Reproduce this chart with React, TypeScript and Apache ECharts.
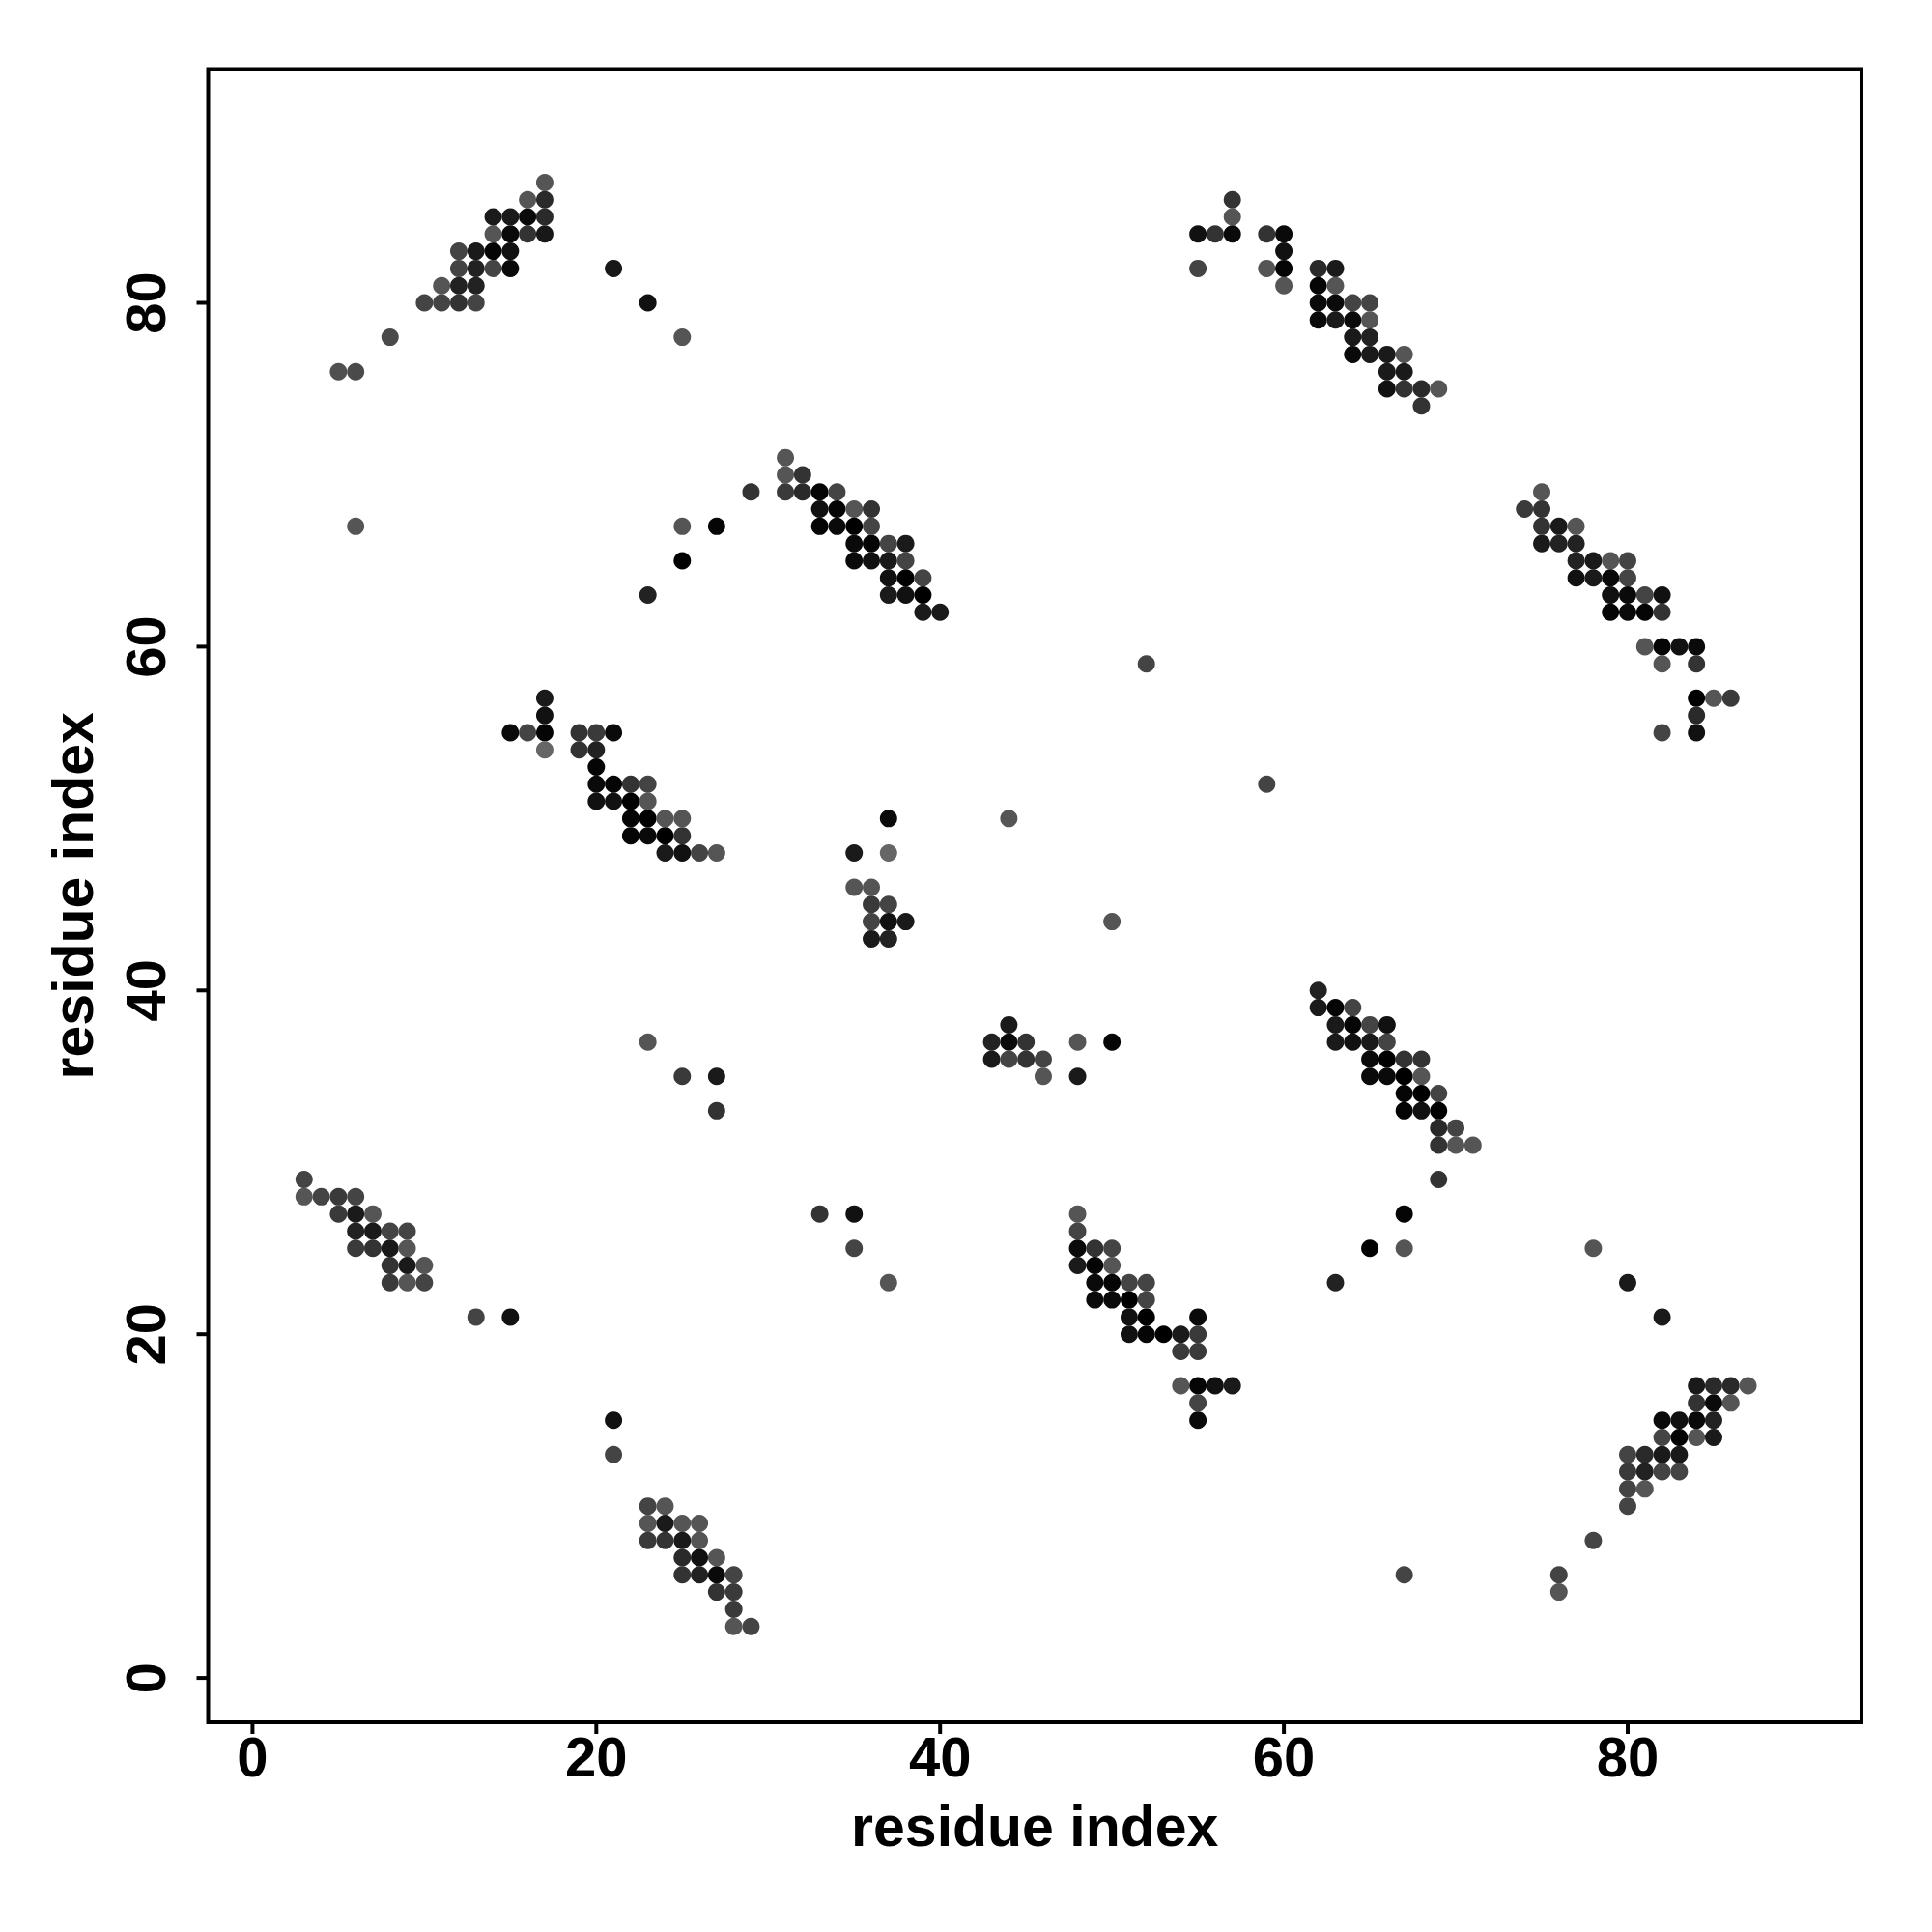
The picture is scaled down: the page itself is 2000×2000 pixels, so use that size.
import React, { useEffect, useRef } from "react";
import * as echarts from "echarts";

// Each point: [residue i, residue j, grey level (0 = black .. 0x66 = mid grey)]
type Pt = [number, number, number];

const tickValues = [0, 20, 40, 60, 80];
const axisMin = -2.58;
const axisMax = 93.6;
const xTitle = "residue index";
const yTitle = "residue index";

const clusterTopLeft: Pt[] = [
  [5, 76, 0x50], [6, 76, 0x4a], [8, 78, 0x4a],
  [10, 80, 0x44], [11, 80, 0x44], [12, 80, 0x33], [13, 80, 0x44],
  [11, 81, 0x55], [12, 81, 0x22], [13, 81, 0x22],
  [12, 82, 0x44], [13, 82, 0x22], [14, 82, 0x44], [15, 82, 0x0a],
  [12, 83, 0x44], [13, 83, 0x1a], [14, 83, 0x05], [15, 83, 0x11],
  [14, 84, 0x55], [15, 84, 0x0a], [16, 84, 0x33], [17, 84, 0x18],
  [14, 85, 0x1a], [15, 85, 0x1a], [16, 85, 0x0a], [17, 85, 0x2a],
  [16, 86, 0x55], [17, 86, 0x2a],
  [17, 87, 0x55],
  [21, 82, 0x18], [23, 80, 0x11], [25, 78, 0x55],
];

const clusterUpperMid: Pt[] = [
  [6, 67, 0x55],
  [23, 63, 0x22], [25, 67, 0x55], [27, 67, 0x05], [25, 65, 0x00], [29, 69, 0x33],
  [31, 71, 0x55],
  [31, 70, 0x55], [32, 70, 0x33],
  [31, 69, 0x3a], [32, 69, 0x2a], [33, 69, 0x05], [34, 69, 0x44],
  [33, 68, 0x11], [34, 68, 0x05], [35, 68, 0x55], [36, 68, 0x33],
  [33, 67, 0x05], [34, 67, 0x0a], [35, 67, 0x00], [36, 67, 0x44],
  [35, 66, 0x0a], [36, 66, 0x05], [37, 66, 0x44], [38, 66, 0x1a],
  [35, 65, 0x0a], [36, 65, 0x11], [37, 65, 0x1a], [38, 65, 0x44],
  [37, 64, 0x11], [38, 64, 0x00], [39, 64, 0x44],
  [37, 63, 0x1a], [38, 63, 0x11], [39, 63, 0x00],
  [39, 62, 0x1a], [40, 62, 0x1a],
];

const clusterCentreLeft: Pt[] = [
  [17, 57, 0x1a], [17, 56, 0x11],
  [15, 55, 0x0a], [16, 55, 0x44], [17, 55, 0x05], [19, 55, 0x33], [20, 55, 0x3a], [21, 55, 0x0a],
  [17, 54, 0x66], [19, 54, 0x33], [20, 54, 0x22],
  [20, 53, 0x05],
  [20, 52, 0x0a], [21, 52, 0x05], [22, 52, 0x33], [23, 52, 0x44],
  [20, 51, 0x11], [21, 51, 0x11], [22, 51, 0x00], [23, 51, 0x55],
  [22, 50, 0x05], [23, 50, 0x00], [24, 50, 0x55], [25, 50, 0x55],
  [22, 49, 0x05], [23, 49, 0x0a], [24, 49, 0x00], [25, 49, 0x33],
  [24, 48, 0x1a], [25, 48, 0x11], [26, 48, 0x44], [27, 48, 0x55],
  [37, 50, 0x0a], [35, 48, 0x1a], [37, 48, 0x66],
  [35, 46, 0x55], [36, 46, 0x55],
  [36, 45, 0x3a], [37, 45, 0x44],
  [36, 44, 0x44], [37, 44, 0x11], [38, 44, 0x1a],
  [36, 43, 0x1a], [37, 43, 0x22],
  [44, 50, 0x55], [50, 44, 0x55], [52, 59, 0x44], [59, 52, 0x44],
];

const clusterLowerLeft: Pt[] = [
  [3, 29, 0x44],
  [3, 28, 0x55], [4, 28, 0x44], [5, 28, 0x3a], [6, 28, 0x44],
  [5, 27, 0x3a], [6, 27, 0x1a], [7, 27, 0x55],
  [6, 26, 0x22], [7, 26, 0x1a], [8, 26, 0x44], [9, 26, 0x44],
  [6, 25, 0x3a], [7, 25, 0x33], [8, 25, 0x1a], [9, 25, 0x55],
  [8, 24, 0x33], [9, 24, 0x1a], [10, 24, 0x55],
  [8, 23, 0x3a], [9, 23, 0x55], [10, 23, 0x44],
  [13, 21, 0x44], [15, 21, 0x11],
];

const clusterBottomLeft: Pt[] = [
  [21, 15, 0x11], [21, 13, 0x44],
  [23, 10, 0x44], [24, 10, 0x55],
  [23, 9, 0x55], [24, 9, 0x1a], [25, 9, 0x55], [26, 9, 0x55],
  [23, 8, 0x3a], [24, 8, 0x33], [25, 8, 0x1a], [26, 8, 0x55],
  [25, 7, 0x2a], [26, 7, 0x11], [27, 7, 0x55],
  [25, 6, 0x33], [26, 6, 0x22], [27, 6, 0x0a], [28, 6, 0x44],
  [27, 5, 0x33], [28, 5, 0x3a],
  [28, 4, 0x3a],
  [28, 3, 0x55], [29, 3, 0x44],
];

const clusterMiddle: Pt[] = [
  [23, 37, 0x55], [25, 35, 0x3a], [27, 35, 0x1a], [27, 33, 0x33],
  [44, 38, 0x1a],
  [43, 37, 0x22], [44, 37, 0x0a], [45, 37, 0x33], [48, 37, 0x55], [50, 37, 0x05],
  [43, 36, 0x1a], [44, 36, 0x44], [45, 36, 0x33], [46, 36, 0x44],
  [46, 35, 0x55], [48, 35, 0x1a],
  [33, 27, 0x33], [35, 27, 0x11], [35, 25, 0x44], [37, 23, 0x55],
];

const clusterLowerMid: Pt[] = [
  [48, 27, 0x55], [48, 26, 0x44],
  [48, 25, 0x0a], [49, 25, 0x33], [50, 25, 0x44],
  [48, 24, 0x1a], [49, 24, 0x05], [50, 24, 0x55],
  [49, 23, 0x0a], [50, 23, 0x05], [51, 23, 0x44], [52, 23, 0x44],
  [49, 22, 0x0a], [50, 22, 0x0a], [51, 22, 0x00], [52, 22, 0x44],
  [51, 21, 0x11], [52, 21, 0x00], [55, 21, 0x0a],
  [51, 20, 0x11], [52, 20, 0x05], [53, 20, 0x00], [54, 20, 0x1a], [55, 20, 0x3a],
  [54, 19, 0x3a], [55, 19, 0x3a],
  [54, 17, 0x55], [55, 17, 0x05], [56, 17, 0x11], [57, 17, 0x1a],
  [55, 16, 0x44], [55, 15, 0x0a],
];

const clusterCentreRight: Pt[] = [
  [62, 40, 0x22],
  [62, 39, 0x1a], [63, 39, 0x05], [64, 39, 0x44],
  [63, 38, 0x1a], [64, 38, 0x05], [65, 38, 0x44], [66, 38, 0x11],
  [63, 37, 0x1a], [64, 37, 0x11], [65, 37, 0x1a], [66, 37, 0x44],
  [65, 36, 0x0a], [66, 36, 0x00], [67, 36, 0x33], [68, 36, 0x33],
  [65, 35, 0x0a], [66, 35, 0x0a], [67, 35, 0x00], [68, 35, 0x55],
  [67, 34, 0x05], [68, 34, 0x00], [69, 34, 0x44],
  [67, 33, 0x05], [68, 33, 0x11], [69, 33, 0x00],
  [69, 32, 0x2a], [70, 32, 0x44],
  [69, 31, 0x33], [70, 31, 0x55], [71, 31, 0x55],
  [69, 29, 0x33],
  [63, 23, 0x22], [65, 25, 0x00], [67, 27, 0x05], [67, 25, 0x55],
  [78, 25, 0x55], [80, 23, 0x1a], [82, 21, 0x1a],
];

const clusterTopRight: Pt[] = [
  [57, 86, 0x33], [57, 85, 0x55],
  [55, 84, 0x11], [56, 84, 0x33], [57, 84, 0x0a], [59, 84, 0x33], [60, 84, 0x0a],
  [60, 83, 0x11],
  [55, 82, 0x44], [59, 82, 0x55], [60, 82, 0x05], [62, 82, 0x2a], [63, 82, 0x1a],
  [60, 81, 0x55], [62, 81, 0x05], [63, 81, 0x55],
  [62, 80, 0x0a], [63, 80, 0x0a], [64, 80, 0x44], [65, 80, 0x44],
  [62, 79, 0x0a], [63, 79, 0x1a], [64, 79, 0x0a], [65, 79, 0x55],
  [64, 78, 0x1a], [65, 78, 0x22],
  [64, 77, 0x0a], [65, 77, 0x1a], [66, 77, 0x1a], [67, 77, 0x55],
  [66, 76, 0x1a], [67, 76, 0x1a],
  [66, 75, 0x11], [67, 75, 0x33], [68, 75, 0x2a], [69, 75, 0x55],
  [68, 74, 0x33],
];

const clusterRight: Pt[] = [
  [75, 69, 0x55],
  [74, 68, 0x3a], [75, 68, 0x33],
  [75, 67, 0x33], [76, 67, 0x1a], [77, 67, 0x55],
  [75, 66, 0x1a], [76, 66, 0x22], [77, 66, 0x22],
  [77, 65, 0x22], [78, 65, 0x1a], [79, 65, 0x55], [80, 65, 0x44],
  [77, 64, 0x11], [78, 64, 0x1a], [79, 64, 0x0a], [80, 64, 0x44],
  [79, 63, 0x11], [80, 63, 0x0a], [81, 63, 0x44], [82, 63, 0x11],
  [79, 62, 0x05], [80, 62, 0x0a], [81, 62, 0x05], [82, 62, 0x33],
  [81, 60, 0x55], [82, 60, 0x05], [83, 60, 0x11], [84, 60, 0x0a],
  [82, 59, 0x55], [84, 59, 0x33],
  [84, 57, 0x00], [85, 57, 0x55], [86, 57, 0x3a],
  [84, 56, 0x2a],
  [82, 55, 0x44], [84, 55, 0x11],
];

const clusterBottomRight: Pt[] = [
  [67, 6, 0x44],
  [76, 6, 0x44], [76, 5, 0x55], [78, 8, 0x44],
  [80, 10, 0x44],
  [80, 11, 0x44], [81, 11, 0x55],
  [80, 12, 0x3a], [81, 12, 0x22], [82, 12, 0x44], [83, 12, 0x44],
  [80, 13, 0x44], [81, 13, 0x2a], [82, 13, 0x1a], [83, 13, 0x1a],
  [82, 14, 0x44], [83, 14, 0x05], [84, 14, 0x55], [85, 14, 0x1a],
  [82, 15, 0x0a], [83, 15, 0x11], [84, 15, 0x0a], [85, 15, 0x22],
  [84, 16, 0x33], [85, 16, 0x0a], [86, 16, 0x55],
  [84, 17, 0x1a], [85, 17, 0x2a], [86, 17, 0x2a], [87, 17, 0x55],
];

const allPoints: Pt[] = [
  ...clusterTopLeft,
  ...clusterUpperMid,
  ...clusterCentreLeft,
  ...clusterLowerLeft,
  ...clusterBottomLeft,
  ...clusterMiddle,
  ...clusterLowerMid,
  ...clusterCentreRight,
  ...clusterTopRight,
  ...clusterRight,
  ...clusterBottomRight,
];

const FONT = "'Liberation Sans', Arial, Helvetica, sans-serif";
const TICK_LEN = 12;
const TICK_W = 4;

function makeAxis(name: string, nameGap: number, labelMargin: number, rotate: number) {
  return {
    type: "value",
    min: axisMin,
    max: axisMax,
    name,
    nameLocation: "middle",
    nameGap,
    nameRotate: rotate,
    nameTextStyle: { fontFamily: FONT, fontWeight: "bold", fontSize: 59, color: "#000" },
    axisLine: { show: false, onZero: false },
    splitLine: { show: false },
    axisTick: { show: false },
    axisLabel: {
      show: true,
      customValues: tickValues,
      margin: labelMargin,
      rotate,
      fontFamily: FONT,
      fontWeight: "bold",
      fontSize: 58,
      color: "#000",
    },
  };
}

export default function App() {
  const ref = useRef<HTMLDivElement>(null);
  useEffect(() => {
    if (!ref.current) return;
    const chart = echarts.init(ref.current, null, { renderer: "svg" });
    chart.setOption({
      animation: false,
      backgroundColor: "#fff",
      grid: {
        show: true,
        left: 215.5,
        top: 71.5,
        right: 73,
        bottom: 217,
        borderColor: "#000",
        borderWidth: 4,
        backgroundColor: "transparent",
      },
      xAxis: makeAxis(xTitle, 78, 6, 0),
      yAxis: makeAxis(yTitle, 110, 36, 90),
      series: [
        {
          type: "scatter",
          data: allPoints,
          symbol: "circle",
          symbolSize: 18,
          encode: { x: 0, y: 1 },
          itemStyle: {
            opacity: 1,
            color: (p: any) => {
              const g = p.value[2];
              return `rgb(${g},${g},${g})`;
            },
          },
        },
      ],
    });

    // Outward tick marks on the box edges, positioned via the axes' own scales
    const bottomPx = chart.convertToPixel({ yAxisIndex: 0 }, axisMin) as number;
    const leftPx = chart.convertToPixel({ xAxisIndex: 0 }, axisMin) as number;
    const ticks: any[] = [];
    tickValues.forEach((v) => {
      const x = chart.convertToPixel({ xAxisIndex: 0 }, v) as number;
      ticks.push({
        type: "line",
        shape: { x1: x, y1: bottomPx, x2: x, y2: bottomPx + TICK_LEN },
        style: { stroke: "#000", lineWidth: TICK_W },
      });
      const y = chart.convertToPixel({ yAxisIndex: 0 }, v) as number;
      ticks.push({
        type: "line",
        shape: { x1: leftPx, y1: y, x2: leftPx - TICK_LEN, y2: y },
        style: { stroke: "#000", lineWidth: TICK_W },
      });
    });
    chart.setOption({ graphic: ticks });

    return () => chart.dispose();
  }, []);
  return (
    <div
      ref={ref}
      style={{ position: "absolute", left: 0, top: 0, width: 2000, height: 2000, background: "#fff" }}
    />
  );
}
